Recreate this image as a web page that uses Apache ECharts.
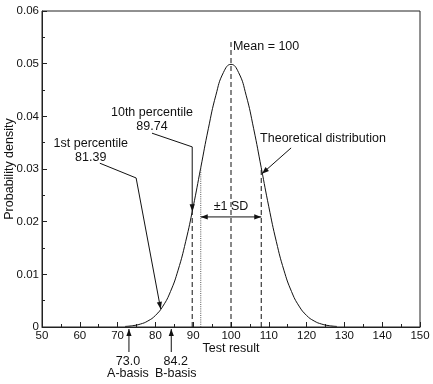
<!DOCTYPE html>
<html>
<head>
<meta charset="utf-8">
<script src="https://cdn.jsdelivr.net/npm/echarts@6/dist/echarts.min.js"></script>
<style>
html,body{margin:0;padding:0;background:#fff;}
#chart{width:433px;height:384px;}
</style>
</head>
<body>
<div id="chart"></div>
<script>
// Curve samples (test result, probability density)
const testResults = [72,74,76,78,80,82,84,86,88,90,92,94,96,98,100,102,104,106,108,110,112,114,116,118,120,122,124,126,128];
const densities  = [0.00011,0.00025,0.00055,0.00114,0.00219,0.00397,0.00675,0.01079,0.01619,0.02283,0.03025,0.03764,0.04401,0.04833,0.04987,0.04833,0.04401,0.03764,0.03025,0.02283,0.01619,0.01079,0.00675,0.00397,0.00219,0.00114,0.00055,0.00025,0.00011];
// Key values
const meanValue = 100;
const sdLow = 92;
const sdHigh = 108;
const pct1 = 81.39;
const pct10 = 89.74;
const aBasis = 73.0;
const bBasis = 84.2;
const xTicks = [50,60,70,80,90,100,110,120,130,140,150];
const yTicks = [0,0.01,0.02,0.03,0.04,0.05,0.06];

const FONT = '"Liberation Sans", Arial, Helvetica, sans-serif';
const INK = '#111';

function dens(x){
  for(let i=0;i<testResults.length-1;i++){
    if(x>=testResults[i] && x<=testResults[i+1]){
      const t=(x-testResults[i])/(testResults[i+1]-testResults[i]);
      return densities[i]+(densities[i+1]-densities[i])*t;
    }
  }
  return 0;
}

const chart = echarts.init(document.getElementById('chart'), null, {renderer:'canvas'});
chart.setOption({
  animation:false,
  backgroundColor:'#fff',
  grid:{left:42,right:13,top:11,bottom:57,containLabel:false,outerBoundsMode:'none',show:true,borderColor:'#222',borderWidth:1,backgroundColor:'transparent'},
  xAxis:{
    type:'value',min:xTicks[0],max:xTicks[xTicks.length-1],interval:10,
    name:'Test result',nameLocation:'middle',nameGap:15,nameMoveOverlap:false,
    nameTextStyle:{fontFamily:FONT,fontSize:12.5,color:INK},
    axisLine:{lineStyle:{color:'#222',width:1}},
    axisTick:{inside:true,length:5,lineStyle:{color:'#222'}},
    minorTick:{show:true,splitNumber:2,length:3,lineStyle:{color:'#222'}},
    axisLabel:{fontFamily:FONT,fontSize:11.5,color:INK,margin:3},
    splitLine:{show:false}
  },
  yAxis:{
    type:'value',min:0,max:0.06,interval:0.01,
    name:'Probability density',nameLocation:'middle',nameGap:32,nameMoveOverlap:false,
    nameTextStyle:{fontFamily:FONT,fontSize:12.5,color:INK,verticalAlign:'middle'},
    axisLine:{show:true,lineStyle:{color:'#222',width:1}},
    axisTick:{show:true,inside:true,length:5,lineStyle:{color:'#222'}},
    minorTick:{show:true,splitNumber:2,length:3,lineStyle:{color:'#222'}},
    axisLabel:{fontFamily:FONT,fontSize:11.5,color:INK,margin:3,formatter:v=>v===0?'0':v.toFixed(2)},
    splitLine:{show:false}
  },
  series:[{
    type:'line',
    data:testResults.map((x,i)=>[x,densities[i]]),
    smooth:true,
    symbol:'none',
    lineStyle:{color:'#111',width:1}
  }]
});

function P(x,y){ return chart.convertToPixel({gridIndex:0},[x,y]); }
function arrowHead(tip, from, len, hw){
  len=len||7; hw=hw||2.6;
  const dx=tip[0]-from[0], dy=tip[1]-from[1];
  const d=Math.sqrt(dx*dx+dy*dy)||1;
  const ux=dx/d, uy=dy/d;
  const bx=tip[0]-ux*len, by=tip[1]-uy*len;
  return {type:'polygon',shape:{points:[tip,[bx-uy*hw,by+ux*hw],[bx+uy*hw,by-ux*hw]]},style:{fill:INK},z:100};
}
function line(a,b,dash,color){
  return {type:'line',shape:{x1:a[0],y1:a[1],x2:b[0],y2:b[1]},style:{stroke:color||INK,lineWidth:1,lineDash:dash||null},z:100};
}
function poly(pts){
  return {type:'polyline',shape:{points:pts},style:{stroke:INK,lineWidth:1,fill:null},z:100};
}
function text(p,str,align,vAlign){
  return {type:'text',x:p[0],y:p[1],style:{text:str,fontFamily:FONT,fontSize:12.5,fill:INK,align:align||'center',verticalAlign:vAlign||'middle'},z:100};
}

const g=[];
const dash=[5,3];
// Mean line
g.push(line(P(meanValue,0),P(meanValue,0.0541),dash));
g.push(text(P(meanValue+0.5,0.0532),'Mean = 100','left'));
// 10th percentile dashed below curve
g.push(line(P(pct10,0),P(pct10,dens(pct10)),dash));
// -1 SD dotted line
g.push(line(P(sdLow,0),P(sdLow,dens(sdLow)),[1,1.2],'#555'));
// +1 SD dashed
g.push(line(P(sdHigh,0),P(sdHigh,dens(sdHigh)),dash));
// ±1 SD arrow
const sL=P(sdLow,0.0209), sR=P(sdHigh,0.0209);
g.push(line(sL,sR));
g.push(arrowHead(sL,sR));
g.push(arrowHead(sR,sL));
g.push(text(P(meanValue,0.0228),'±1 SD'));
// Theoretical distribution
g.push(text(P(107.7,0.0357),'Theoretical distribution','left'));
const tdFrom=P(115.9,0.0340), tdTip=P(sdHigh+0.2,dens(sdHigh+0.2)-0.0004);
g.push(line(tdFrom,tdTip));
g.push(arrowHead(tdTip,tdFrom));
// 10th percentile
g.push(text(P(79.1,0.0407),'10th percentile'));
g.push(text(P(79.1,0.0380),'89.74'));
const p10a=P(79.1,0.0368), p10b=P(pct10,0.0342), p10tip=P(pct10,dens(pct10));
g.push(poly([p10a,p10b,p10tip]));
g.push(arrowHead(p10tip,p10b));
// 1st percentile
g.push(text(P(62.9,0.0348),'1st percentile'));
g.push(text(P(62.9,0.0321),'81.39'));
const p1a=P(65.3,0.0311), p1b=P(74.9,0.0283), p1tip=P(pct1,dens(pct1));
g.push(poly([p1a,p1b,p1tip]));
g.push(arrowHead(p1tip,p1b));
// Basis arrows below axis
[[aBasis,'73.0','A-basis',-1],[bBasis,'84.2','B-basis',4.5]].forEach(([v,num,lab,off])=>{
  const base=P(v,0);
  const tip=[base[0],base[1]+2];
  const tail=[base[0],base[1]+25];
  g.push(line(tail,tip));
  g.push(arrowHead(tip,tail));
  g.push(text([base[0]+off,base[1]+35],num));
  g.push(text([base[0]+off,base[1]+47],lab));
});
chart.setOption({graphic:g});
</script>
</body>
</html>
